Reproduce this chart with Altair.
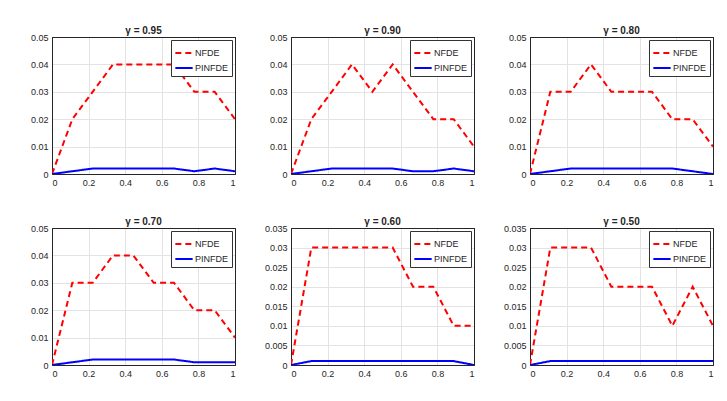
import altair as alt
import pandas as pd

x_vals = [0, 1/9, 2/9, 3/9, 4/9, 5/9, 6/9, 7/9, 8/9, 1]

gammas = ["0.95", "0.90", "0.80", "0.70", "0.60", "0.50"]
nfde = {
    "0.95": [0, 0.02, 0.03, 0.04, 0.04, 0.04, 0.04, 0.03, 0.03, 0.02],
    "0.90": [0, 0.02, 0.03, 0.04, 0.03, 0.04, 0.03, 0.02, 0.02, 0.01],
    "0.80": [0, 0.03, 0.03, 0.04, 0.03, 0.03, 0.03, 0.02, 0.02, 0.01],
    "0.70": [0, 0.03, 0.03, 0.04, 0.04, 0.03, 0.03, 0.02, 0.02, 0.01],
    "0.60": [0, 0.03, 0.03, 0.03, 0.03, 0.03, 0.02, 0.02, 0.01, 0.01],
    "0.50": [0, 0.03, 0.03, 0.03, 0.02, 0.02, 0.02, 0.01, 0.02, 0.01],
}
pinfde = {
    "0.95": [0, 0.001, 0.002, 0.002, 0.002, 0.002, 0.002, 0.001, 0.002, 0.001],
    "0.90": [0, 0.001, 0.002, 0.002, 0.002, 0.002, 0.001, 0.001, 0.002, 0.001],
    "0.80": [0, 0.001, 0.002, 0.002, 0.002, 0.002, 0.002, 0.002, 0.001, 0.0],
    "0.70": [0, 0.001, 0.002, 0.002, 0.002, 0.002, 0.002, 0.001, 0.001, 0.001],
    "0.60": [0, 0.001, 0.001, 0.001, 0.001, 0.001, 0.001, 0.001, 0.001, 0.0],
    "0.50": [0, 0.001, 0.001, 0.001, 0.001, 0.001, 0.001, 0.001, 0.001, 0.001],
}
y_max = {"0.95": 0.05, "0.90": 0.05, "0.80": 0.05, "0.70": 0.05, "0.60": 0.035, "0.50": 0.035}
y_step = {"0.95": 0.01, "0.90": 0.01, "0.80": 0.01, "0.70": 0.01, "0.60": 0.005, "0.50": 0.005}
x_ticks = [0, 0.2, 0.4, 0.6, 0.8, 1]
series_names = ["NFDE", "PINFDE"]

FONT = "Liberation Sans"
TXT = "#262626"

panels = []
for g in gammas:
    rows = []
    for xi, a, b in zip(x_vals, nfde[g], pinfde[g]):
        rows.append({"x": xi, "series": "NFDE", "value": a})
        rows.append({"x": xi, "series": "PINFDE", "value": b})
    df = pd.DataFrame(rows)
    n = int(round(y_max[g] / y_step[g]))
    yt = [round(i * y_step[g], 4) for i in range(n + 1)]
    leg = alt.Legend(title=None, orient="top-right", offset=3,
                     fillColor="white", strokeColor="#333333", padding=3,
                     symbolType="stroke", symbolSize=300, symbolStrokeWidth=2,
                     labelFontSize=9, labelFont=FONT, labelColor=TXT,
                     rowPadding=-5, labelOffset=1, symbolOffset=0)
    ygrid = {"condition": {"test": "datum.value > %g || datum.value < 0.0001" % (y_max[g] - 0.0001),
                           "value": 0}, "value": 1}
    xgrid = {"condition": {"test": "datum.value > 0.999 || datum.value < 0.001", "value": 0}, "value": 1}
    xs = alt.Scale(domain=[0, 1], nice=False, zero=False)
    ys = alt.Scale(domain=[0, y_max[g]], nice=False)
    lines = alt.Chart(df).mark_line(strokeWidth=2, clip=True).encode(
        x=alt.X("x:Q", scale=xs,
                axis=alt.Axis(values=x_ticks, format="~g", title=None, ticks=False,
                              labelPadding=4, gridColor="#e3e3e3", gridOpacity=xgrid,
                              domain=True, domainColor=TXT)),
        y=alt.Y("value:Q", scale=ys,
                axis=alt.Axis(values=yt, format="~g", title=None, ticks=False,
                              labelPadding=4, gridColor="#e3e3e3", gridOpacity=ygrid,
                              domain=True, domainColor=TXT)),
        color=alt.Color("series:N", scale=alt.Scale(domain=series_names, range=["#ff0000", "#0000ff"]),
                        legend=leg),
        strokeDash=alt.StrokeDash("series:N", scale=alt.Scale(domain=series_names, range=[[6, 4], [1, 0]]),
                                  legend=leg),
        order=alt.Order("x:Q"),
    )
    frame = alt.Chart(df).mark_line(opacity=0).encode(
        x=alt.X("x:Q", scale=xs,
                axis=alt.Axis(orient="top", values=x_ticks, labels=False, title=None, ticks=False,
                              grid=False, domain=True, domainColor=TXT)),
        y=alt.Y("value:Q", scale=ys,
                axis=alt.Axis(orient="right", values=yt, labels=False, title=None, ticks=False,
                              grid=False, domain=True, domainColor=TXT)),
        detail="series:N",
    )
    ch = alt.layer(lines, frame).resolve_axis(x="independent", y="independent").properties(
        width=183, height=137,
        title=alt.TitleParams("\u03b3 = " + g, fontSize=10, fontWeight="bold",
                              font=FONT, color=TXT, offset=-3, frame="group"))
    panels.append(ch)

chart = alt.concat(*panels, columns=3, spacing={"row": 54, "column": 56}, bounds="flush").resolve_scale(
    x="independent", y="independent", color="independent", strokeDash="independent"
).resolve_legend(color="independent", strokeDash="independent").properties(
    padding={"left": 21, "top": 17, "right": 5, "bottom": 5}
).configure_view(stroke=TXT, strokeWidth=1).configure_axis(
    labelFont=FONT, labelFontSize=9, labelColor=TXT
).configure_title(anchor="middle")

chart.save("out.html", embed_options={"renderer": "svg", "actions": False})
